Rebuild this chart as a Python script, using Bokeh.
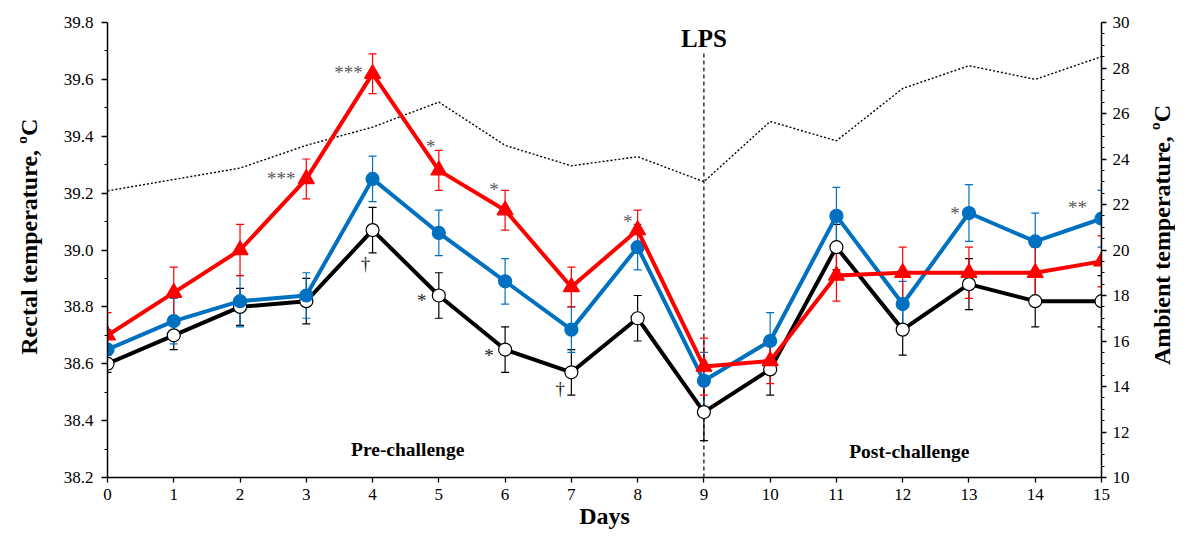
import math
from bokeh.plotting import figure
from bokeh.layouts import row
from bokeh.models import (Range1d, LinearAxis, FixedTicker, Whisker, ColumnDataSource,
                          TeeHead, Label, PrintfTickFormatter)
from bokeh.core.properties import value
from bokeh.embed import file_html
from bokeh.resources import INLINE

# ---------------- data ----------------
days = list(range(16))
ambient = [22.6, 23.1, 23.6, 24.6, 25.4, 26.5, 24.6, 23.7, 24.1, 23.0, 25.65, 24.8, 27.1, 28.1, 27.5, 28.5]

ctrl = [38.60, 38.70, 38.80, 38.82, 39.07, 38.84, 38.65, 38.57, 38.76, 38.43, 38.58, 39.01, 38.72, 38.88, 38.82, 38.82]
ctrl_se = [0.03, 0.05, 0.065, 0.08, 0.08, 0.08, 0.08, 0.08, 0.08, 0.10, 0.09, 0.08, 0.09, 0.09, 0.09, 0.09]

blue = [38.65, 38.75, 38.82, 38.84, 39.25, 39.06, 38.89, 38.72, 39.01, 38.54, 38.68, 39.12, 38.81, 39.13, 39.03, 39.11]
blue_se = [0.07, 0.08, 0.09, 0.08, 0.08, 0.08, 0.08, 0.08, 0.08, 0.10, 0.10, 0.10, 0.08, 0.10, 0.10, 0.10]

red = [38.70, 38.85, 39.00, 39.25, 39.62, 39.28, 39.14, 38.87, 39.07, 38.59, 38.61, 38.91, 38.92, 38.92, 38.92, 38.96]
red_se = [0.08, 0.09, 0.09, 0.07, 0.07, 0.07, 0.07, 0.07, 0.07, 0.10, 0.08, 0.09, 0.09, 0.09, 0.09, 0.09]

left_ticks = [38.2, 38.4, 38.6, 38.8, 39.0, 39.2, 39.4, 39.6, 39.8]
right_ticks = [10, 12, 14, 16, 18, 20, 22, 24, 26, 28, 30]

# significance marks: (day, text)
red_marks = [(3, "***"), (4, "***"), (5, "*"), (6, "*"), (8, "*")]
blue_marks = [(13, "*"), (15, "**")]
ctrl_marks = [(4, "\u2020"), (5, "*"), (6, "*"), (7, "\u2020")]

lps_day = 9

# ---------------- figure ----------------
FONT = "Liberation Serif"
RED = "#FF0000"
BLUE = "#0070C0"
BLACK = "#000000"
H = 531

p = figure(width=1095, height=H, x_range=Range1d(0, 15), y_range=Range1d(38.2, 39.8),
           output_backend="svg", toolbar_location=None,
           min_border_left=57, min_border_right=44, min_border_top=22, min_border_bottom=0)
p.outline_line_color = None
p.xgrid.visible = False
p.ygrid.visible = False
p.background_fill_color = "white"
p.border_fill_color = "white"


def style_axis(ax, tick_out, standoff):
    ax.major_label_text_font = FONT
    ax.major_label_text_font_size = "17px"
    ax.major_label_text_color = BLACK
    ax.major_label_standoff = standoff
    ax.major_tick_in = 0
    ax.major_tick_out = tick_out
    ax.minor_tick_in = 0
    ax.minor_tick_out = 3
    ax.axis_line_color = BLACK
    ax.axis_line_width = 1.5
    ax.major_tick_line_color = BLACK
    ax.major_tick_line_width = 1.3
    ax.minor_tick_line_color = BLACK
    ax.minor_tick_line_width = 1.1


# x axis
xa = p.xaxis[0]
xa.ticker = FixedTicker(ticks=days)
style_axis(xa, 5, 6)
xa.minor_tick_line_color = None
xa.axis_label = "Days"
xa.axis_label_text_font = FONT
xa.axis_label_text_font_style = "bold"
xa.axis_label_text_font_size = "24px"
xa.axis_label_text_color = BLACK
xa.axis_label_standoff = 0

# left axis
ya = p.yaxis[0]
ya.ticker = FixedTicker(ticks=left_ticks,
                        minor_ticks=[round(38.3 + 0.2 * i, 1) for i in range(8)])
ya.formatter = PrintfTickFormatter(format="%.1f")
style_axis(ya, 6, 8)

# right axis
p.extra_y_ranges = {"amb": Range1d(10, 30)}
ra = LinearAxis(y_range_name="amb",
                ticker=FixedTicker(ticks=right_ticks,
                                   minor_ticks=[10 + 0.5 * i for i in range(41)]))
style_axis(ra, 5, 6)
p.add_layout(ra, "right")

# ambient temperature (dotted)
p.line(days, ambient, y_range_name="amb", line_color=BLACK, line_width=1.4, line_dash="2 2")

# LPS line
p.segment(x0=[lps_day], y0=[38.2], x1=[lps_day], y1=[39.8 - 0.108], line_color=BLACK,
          line_width=1.2, line_dash="4 3")


def series(vals, se, color, marker, size, fill):
    src = ColumnDataSource(dict(x=days, y=vals,
                                lo=[v - s for v, s in zip(vals, se)],
                                hi=[v + s for v, s in zip(vals, se)]))
    w = Whisker(source=src, base="x", lower="lo", upper="hi", line_color=color, line_width=1.2,
                upper_head=TeeHead(size=8, line_color=color, line_width=1.2),
                lower_head=TeeHead(size=8, line_color=color, line_width=1.2))
    p.add_layout(w)
    p.line("x", "y", source=src, line_color=color, line_width=4)
    p.scatter("x", "y", source=src, marker=marker, size=size, fill_color=fill,
              line_color=color, line_width=1.2)


series(ctrl, ctrl_se, BLACK, "circle", 13, "white")
series(blue, blue_se, BLUE, "circle", 13, BLUE)
series(red, red_se, RED, "triangle", 16, RED)


def marks(lst, vals, dx, dy, color):
    src = ColumnDataSource(dict(x=[d for d, _ in lst], y=[vals[d] for d, _ in lst],
                                t=[t for _, t in lst], dx=dx, dy=dy))
    p.text("x", "y", text="t", source=src, x_offset="dx", y_offset="dy",
           text_font=value(FONT), text_font_size=value("19px"), text_color=color,
           text_align="center", text_baseline="middle")


marks(red_marks, red, [-25, -24, -8, -11, -10], [0, -1, -24, -21, -9], "#595959")
marks(blue_marks, blue, [-14, -24], [0, -11], "#595959")
marks(ctrl_marks, ctrl, [-7, -17, -16, -11], [33, 5, 6, 16], "#222222")


def lab(fig, x, y, text, size, angle=0.0):
    fig.add_layout(Label(x=x, y=y, text=text, text_font=FONT, text_font_style="bold",
                         text_font_size=size, text_color=BLACK, text_align="center",
                         text_baseline="middle", angle=angle))


lab(p, lps_day, 39.8 - 0.056, "LPS", "25px")
lab(p, 4.53, 38.30, "Pre-challenge", "19.5px")
lab(p, 12.1, 38.29, "Post-challenge", "19.5px")


def strip(w):
    f = figure(width=w, height=H, x_range=Range1d(0, w), y_range=Range1d(0, H),
               output_backend="svg", toolbar_location=None, x_axis_type=None,
               y_axis_type=None, min_border=0)
    f.outline_line_color = None
    f.border_fill_color = "white"
    f.background_fill_color = "white"
    return f


left = strip(50)
lab(left, 28, H - 250, "Rectal temperature, \u00baC", "24px", angle=math.pi / 2)
right = strip(30)
lab(right, 16, H - 248, "Ambient temperature, \u00baC", "24px", angle=math.pi / 2)

layout = row(left, p, right, spacing=0)

open("out.html", "w").write(file_html(layout, INLINE))
